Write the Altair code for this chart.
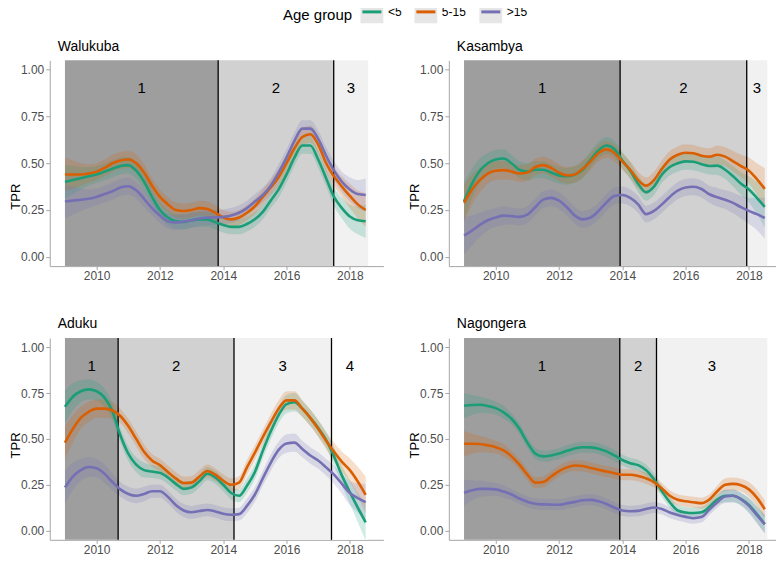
import altair as alt
import pandas as pd

FONT = "Liberation Sans"

YEARS = [2009.0, 2009.25, 2009.5, 2009.75, 2010.0, 2010.25, 2010.5, 2010.75,
         2011.0, 2011.25, 2011.5, 2011.75, 2012.0, 2012.25, 2012.5, 2012.75,
         2013.0, 2013.25, 2013.5, 2013.75, 2014.0, 2014.25, 2014.5, 2014.75,
         2015.0, 2015.25, 2015.5, 2015.75, 2016.0, 2016.25, 2016.5, 2016.75,
         2017.0, 2017.25, 2017.5, 2017.75, 2018.0, 2018.25, 2018.5]

GROUPS = ["<5", "5-15", ">15"]
LINE_COLORS = ["#1b9e77", "#d95f02", "#7570b3"]

# ---- Walukuba ----
WAL_U5 = [0.40, 0.41, 0.42, 0.43, 0.44, 0.455, 0.47, 0.485, 0.49, 0.46, 0.40, 0.32, 0.25,
          0.21, 0.19, 0.186, 0.195, 0.20, 0.20, 0.185, 0.17, 0.16, 0.16, 0.175, 0.20, 0.24,
          0.30, 0.36, 0.44, 0.53, 0.595, 0.595, 0.52, 0.42, 0.32, 0.26, 0.215, 0.195, 0.19]
WAL_5_15 = [0.44, 0.44, 0.44, 0.445, 0.455, 0.475, 0.50, 0.515, 0.52, 0.50, 0.45, 0.38, 0.32,
            0.28, 0.25, 0.245, 0.25, 0.26, 0.255, 0.235, 0.21, 0.20, 0.21, 0.235, 0.27, 0.32,
            0.37, 0.425, 0.50, 0.58, 0.64, 0.655, 0.60, 0.50, 0.43, 0.375, 0.325, 0.28, 0.25]
WAL_O15 = [0.295, 0.30, 0.305, 0.31, 0.32, 0.335, 0.35, 0.37, 0.377, 0.355, 0.31, 0.26, 0.22,
           0.19, 0.183, 0.188, 0.195, 0.205, 0.21, 0.21, 0.213, 0.22, 0.235, 0.26, 0.295, 0.33,
           0.38, 0.45, 0.53, 0.62, 0.685, 0.685, 0.63, 0.54, 0.46, 0.40, 0.36, 0.335, 0.33]
WAL_HW = [0.09, 0.075, 0.06, 0.05, 0.045, 0.045, 0.045, 0.045, 0.045, 0.045, 0.045, 0.04, 0.04,
          0.04, 0.04, 0.04, 0.04, 0.04, 0.04, 0.04, 0.04, 0.04, 0.04, 0.04, 0.04, 0.04,
          0.04, 0.045, 0.045, 0.045, 0.045, 0.045, 0.045, 0.045, 0.05, 0.055, 0.065, 0.075, 0.09]
WAL_BREAKS = [2009.0, 2013.84, 2017.49, 2018.58]

# ---- Kasambya ----
KAS_U5 = [0.297, 0.39, 0.46, 0.50, 0.52, 0.525, 0.50, 0.465, 0.455, 0.465, 0.465, 0.45, 0.435,
          0.43, 0.44, 0.465, 0.52, 0.57, 0.595, 0.575, 0.515, 0.46, 0.39, 0.345, 0.375, 0.44,
          0.48, 0.50, 0.51, 0.508, 0.495, 0.485, 0.487, 0.465, 0.43, 0.39, 0.36, 0.315, 0.267]
KAS_5_15 = [0.288, 0.36, 0.41, 0.445, 0.46, 0.463, 0.455, 0.445, 0.45, 0.48, 0.49, 0.475, 0.45,
            0.435, 0.44, 0.47, 0.51, 0.555, 0.574, 0.555, 0.51, 0.465, 0.41, 0.38, 0.41, 0.47,
            0.52, 0.545, 0.556, 0.553, 0.54, 0.535, 0.545, 0.535, 0.51, 0.485, 0.46, 0.415, 0.363]
KAS_O15 = [0.113, 0.14, 0.17, 0.195, 0.21, 0.22, 0.217, 0.213, 0.225, 0.265, 0.305, 0.315, 0.30,
           0.265, 0.22, 0.20, 0.21, 0.245, 0.29, 0.325, 0.33, 0.315, 0.28, 0.228, 0.245, 0.28,
           0.32, 0.353, 0.37, 0.374, 0.362, 0.334, 0.318, 0.305, 0.288, 0.265, 0.245, 0.228, 0.207]
KAS_HW = [0.10, 0.08, 0.065, 0.055, 0.05, 0.05, 0.045, 0.045, 0.045, 0.045, 0.045, 0.045, 0.045,
          0.045, 0.045, 0.045, 0.045, 0.045, 0.045, 0.045, 0.045, 0.045, 0.045, 0.045, 0.045, 0.045,
          0.045, 0.045, 0.045, 0.045, 0.045, 0.045, 0.05, 0.05, 0.055, 0.06, 0.07, 0.085, 0.11]
KAS_BREAKS = [2009.0, 2013.93, 2017.93, 2018.58]

# ---- Aduku ----
ADU_U5 = [0.675, 0.73, 0.76, 0.77, 0.76, 0.725, 0.65, 0.52, 0.42, 0.36, 0.33, 0.322, 0.315,
          0.29, 0.255, 0.228, 0.236, 0.27, 0.31, 0.29, 0.25, 0.205, 0.19, 0.245, 0.32, 0.435,
          0.54, 0.63, 0.69, 0.70, 0.665, 0.615, 0.56, 0.495, 0.405, 0.30, 0.21, 0.126, 0.045]
ADU_5_15 = [0.48, 0.555, 0.615, 0.648, 0.665, 0.665, 0.655, 0.625, 0.57, 0.50, 0.43, 0.383, 0.357,
            0.32, 0.285, 0.26, 0.262, 0.295, 0.325, 0.305, 0.272, 0.25, 0.262, 0.345, 0.425, 0.51,
            0.59, 0.665, 0.71, 0.71, 0.665, 0.615, 0.555, 0.49, 0.43, 0.375, 0.33, 0.268, 0.195]
ADU_O15 = [0.236, 0.295, 0.33, 0.347, 0.34, 0.31, 0.265, 0.225, 0.20, 0.19, 0.20, 0.215, 0.215,
           0.185, 0.14, 0.11, 0.10, 0.107, 0.113, 0.105, 0.092, 0.087, 0.09, 0.135, 0.197, 0.285,
           0.37, 0.44, 0.475, 0.48, 0.445, 0.41, 0.382, 0.345, 0.305, 0.255, 0.205, 0.178, 0.155]
ADU_HW = [0.09, 0.075, 0.06, 0.055, 0.05, 0.05, 0.045, 0.04, 0.04, 0.04, 0.04, 0.035, 0.035,
          0.035, 0.035, 0.035, 0.035, 0.035, 0.035, 0.035, 0.035, 0.035, 0.035, 0.04, 0.04, 0.04,
          0.045, 0.045, 0.05, 0.05, 0.045, 0.045, 0.045, 0.045, 0.05, 0.055, 0.065, 0.08, 0.10]
ADU_BREAKS = [2009.0, 2010.68, 2014.34, 2017.42, 2018.58]

# ---- Nagongera ----
NAG_U5 = [0.681, 0.685, 0.686, 0.68, 0.668, 0.645, 0.61, 0.555, 0.48, 0.42, 0.405, 0.41, 0.42,
          0.435, 0.448, 0.455, 0.454, 0.447, 0.432, 0.41, 0.385, 0.368, 0.357, 0.33, 0.28, 0.215,
          0.155, 0.11, 0.099, 0.096, 0.10, 0.13, 0.17, 0.19, 0.19, 0.172, 0.14, 0.09, 0.035]
NAG_5_15 = [0.474, 0.474, 0.472, 0.465, 0.455, 0.437, 0.405, 0.36, 0.305, 0.262, 0.265, 0.295, 0.325,
            0.345, 0.355, 0.352, 0.342, 0.332, 0.322, 0.313, 0.305, 0.305, 0.298, 0.285, 0.265, 0.23,
            0.19, 0.168, 0.16, 0.155, 0.15, 0.17, 0.215, 0.25, 0.255, 0.248, 0.225, 0.18, 0.117]
NAG_O15 = [0.207, 0.22, 0.228, 0.228, 0.225, 0.213, 0.197, 0.175, 0.158, 0.147, 0.143, 0.142, 0.141,
           0.149, 0.157, 0.166, 0.168, 0.16, 0.145, 0.125, 0.11, 0.106, 0.108, 0.118, 0.126, 0.118,
           0.099, 0.085, 0.075, 0.068, 0.074, 0.115, 0.155, 0.187, 0.19, 0.172, 0.135, 0.085, 0.036]
NAG_HW = [0.07, 0.055, 0.045, 0.04, 0.035, 0.035, 0.03, 0.03, 0.03, 0.03, 0.03, 0.03, 0.03,
          0.03, 0.03, 0.03, 0.03, 0.03, 0.03, 0.03, 0.03, 0.03, 0.03, 0.03, 0.03, 0.03,
          0.03, 0.03, 0.03, 0.03, 0.03, 0.03, 0.03, 0.035, 0.035, 0.035, 0.04, 0.045, 0.05]
NAG_BREAKS = [2009.0, 2013.92, 2015.08, 2018.58]

PERIOD_FILLS = ["#9e9e9e", "#d1d1d1", "#f1f1f1", "#ffffff"]
KEY_FILL = "#e6e6e6"

SERIES = {
    "Walukuba": ([WAL_U5, WAL_5_15, WAL_O15], WAL_HW, WAL_BREAKS),
    "Kasambya": ([KAS_U5, KAS_5_15, KAS_O15], KAS_HW, KAS_BREAKS),
    "Aduku": ([ADU_U5, ADU_5_15, ADU_O15], ADU_HW, ADU_BREAKS),
    "Nagongera": ([NAG_U5, NAG_5_15, NAG_O15], NAG_HW, NAG_BREAKS),
}

W = 334
H_TOP, H_BOTTOM = 206, 202
X_DOMAIN = [2008.52, 2019.06]
Y_DOMAIN = [-0.05, 1.05]
AXIS_GREY = "#a6a6a6"

# layout (relative to top-left plot area)
LEG_X, LEG_Y = 233.5, -59.5
ANCHOR_X = -60
PAD_LEFT, PAD_TOP, PAD_RIGHT, PAD_BOTTOM = -19.2, -7.9, -7, -2

# legend key: grey square (fill) with a coloured centre line (dashed stroke shows only the line)
KEY_PATH = "M-1,0L1,0L1.2,0L1.2,-1.2L-1.2,-1.2L-1.2,1.2L1.2,1.2L1.2,0Z"
KEY_SIZE = 361  # sqrt -> 19 px line


def panel(site, top_row, with_anchor):
    vals, hw, breaks = SERIES[site]
    h = H_TOP if top_row else H_BOTTOM
    rows = []
    for g, series in zip(GROUPS, vals):
        for yr, v, d in zip(YEARS, series, hw):
            rows.append({"year": yr, "tpr": v, "lo": v - d, "hi": v + d, "grp": g})
    df = pd.DataFrame(rows)
    n = len(breaks) - 1
    per = pd.DataFrame({
        "start": breaks[:-1], "end": breaks[1:],
        "idx": list(range(n)), "label": [str(i + 1) for i in range(n)],
    })
    cuts = pd.DataFrame({"x": breaks[1:-1]})

    xs = alt.Scale(domain=X_DOMAIN, nice=False, zero=False)
    ys = alt.Scale(domain=Y_DOMAIN, nice=False, zero=False)
    xaxis = alt.Axis(values=[2010, 2012, 2014, 2016, 2018], format="d", title=None,
                     grid=False, labelFontSize=12, labelColor="#4d4d4d", labelFont=FONT,
                     tickColor=AXIS_GREY, domainColor=AXIS_GREY, tickSize=3.5, labelPadding=1)
    yaxis = alt.Axis(values=[0, 0.25, 0.5, 0.75, 1.0], format=".2f", title="TPR",
                     grid=False, labelFontSize=12, labelColor="#4d4d4d", labelFont=FONT,
                     tickColor=AXIS_GREY, domainColor=AXIS_GREY, tickSize=4, labelPadding=2,
                     titleFontSize=13, titleFontWeight="normal", titleColor="black",
                     titleFont=FONT, titleAngle=270, titleAlign="center",
                     titleBaseline="middle", titleX=-34,
                     titleY=136 if top_row else 107)
    legend = alt.Legend(
        title="Age group", orient="none", legendX=LEG_X, legendY=LEG_Y,
        direction="horizontal", titleOrient="left", titleFontSize=15,
        titleFontWeight="normal", titleColor="black", titleFont=FONT,
        titleAnchor="middle", titleBaseline="middle", titlePadding=8,
        labelFontSize=12, labelColor="black", labelFont=FONT, labelOffset=5,
        columnPadding=6, gridAlign="none", symbolType=KEY_PATH, symbolSize=KEY_SIZE,
        symbolStrokeWidth=3, symbolFillColor=KEY_FILL, symbolDash=[19, 400],
        padding=0,
    )

    layers = []
    if with_anchor:
        anchor_df = pd.DataFrame({"a": [0]})
        layers.append(alt.Chart(anchor_df).mark_rule(color="white", strokeWidth=1).encode(
            x=alt.value(ANCHOR_X), y=alt.value(0), y2=alt.value(2)))

    for i in range(n):
        layers.append(
            alt.Chart(per).transform_filter(alt.datum.idx == i)
            .mark_rect(color=PERIOD_FILLS[i])
            .encode(x=alt.X("start:Q", scale=xs, axis=xaxis), x2="end:Q",
                    y=alt.value(0), y2=alt.value(h))
        )
    for g, col in zip(GROUPS, LINE_COLORS):
        layers.append(
            alt.Chart(df).transform_filter(alt.datum.grp == g)
            .mark_area(color=col, fillOpacity=0.2, interpolate="monotone")
            .encode(x=alt.X("year:Q", scale=xs, axis=xaxis),
                    y=alt.Y("lo:Q", scale=ys, axis=yaxis), y2="hi:Q")
        )
    rules = alt.Chart(cuts).mark_rule(color="black", strokeWidth=1.3).encode(
        x=alt.X("x:Q", scale=xs, axis=xaxis),
    )
    line = alt.Chart(df).mark_line(strokeWidth=2.6, interpolate="monotone").encode(
        x=alt.X("year:Q", scale=xs, axis=xaxis),
        y=alt.Y("tpr:Q", scale=ys, axis=yaxis),
        stroke=alt.Stroke("grp:N", scale=alt.Scale(domain=GROUPS, range=LINE_COLORS),
                          legend=legend),
    )
    labels = alt.Chart(per).transform_calculate(
        mid="(datum.start + datum.end) / 2"
    ).mark_text(fontSize=15, font=FONT, color="black").encode(
        x=alt.X("mid:Q", scale=xs, axis=xaxis),
        y=alt.datum(0.9, scale=ys),
        text="label:N",
    )
    layers += [rules, line, labels]
    return alt.layer(*layers).properties(
        width=W, height=h,
        title=alt.TitleParams(site, anchor="start", frame="group", dx=8, fontSize=14,
                              fontWeight="normal", color="black", font=FONT, offset=6),
    )


chart = alt.concat(
    panel("Walukuba", True, True), panel("Kasambya", True, False),
    panel("Aduku", False, False), panel("Nagongera", False, False),
    columns=2, spacing={"row": 72, "column": 65.5}, bounds="flush",
).configure_view(stroke=None).properties(
    padding={"left": PAD_LEFT, "top": PAD_TOP, "right": PAD_RIGHT, "bottom": PAD_BOTTOM}
)

chart.save("out.html", embed_options={"renderer": "svg", "actions": False})
